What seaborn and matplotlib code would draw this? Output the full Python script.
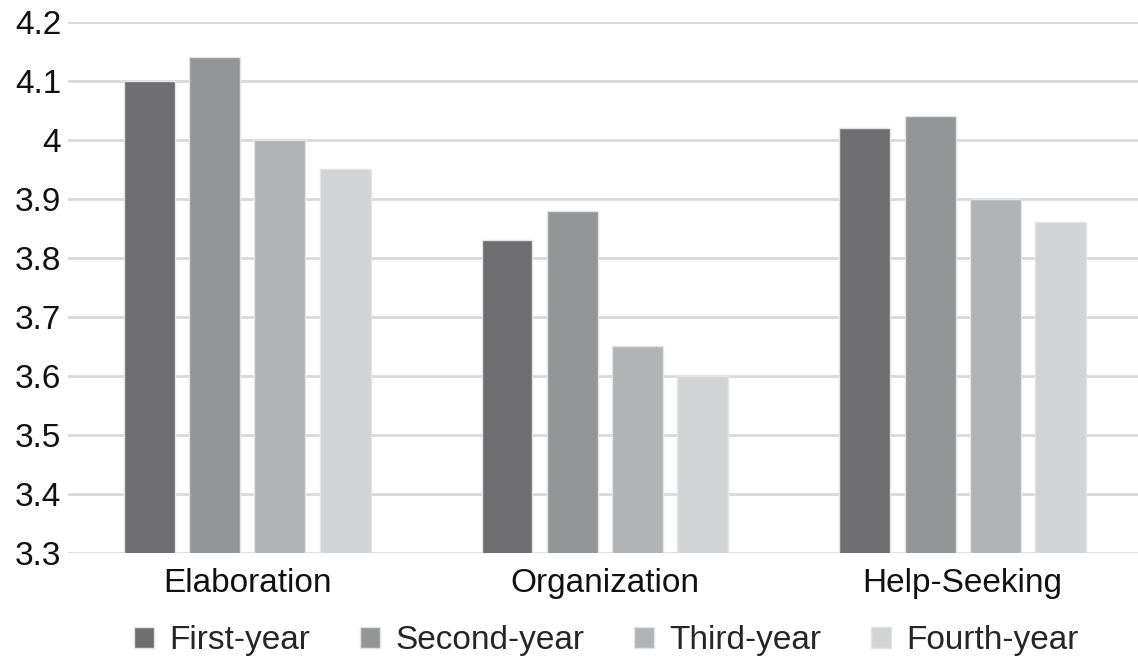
import matplotlib
matplotlib.use("Agg")
import matplotlib.pyplot as plt
import seaborn as sns
import pandas as pd

# Data
categories = ["Elaboration", "Organization", "Help-Seeking"]
years = ["First-year", "Second-year", "Third-year", "Fourth-year"]
first_year = [4.10, 3.83, 4.02]
second_year = [4.14, 3.88, 4.04]
third_year = [4.00, 3.65, 3.90]
fourth_year = [3.95, 3.60, 3.86]
colors = ["#6d6e71", "#939598", "#b1b3b6", "#d1d3d4"]

rows = []
for year, vals in zip(years, [first_year, second_year, third_year, fourth_year]):
    for cat, v in zip(categories, vals):
        rows.append({"Strategy": cat, "Year": year, "Score": v})
df = pd.DataFrame(rows)

sns.set_style("white")
plt.rcParams["font.family"] = ["Liberation Sans", "DejaVu Sans"]

fig = plt.figure(figsize=(11.38, 6.59), dpi=100)
ax = fig.add_axes([0.06, 0.161, 0.94, 0.806])

sns.barplot(
    data=df, x="Strategy", y="Score", hue="Year",
    order=categories, hue_order=years, palette=colors,
    width=0.73, gap=0.22, edgecolor="#e4e4e4", linewidth=1,
    ax=ax, zorder=3,
)

ax.set_ylim(3.3, 4.2)
ax.set_xlim(-0.5, 2.49)
ticks = [3.3, 3.4, 3.5, 3.6, 3.7, 3.8, 3.9, 4.0, 4.1, 4.2]
ax.set_yticks(ticks)
ax.set_yticklabels(["3.3", "3.4", "3.5", "3.6", "3.7", "3.8", "3.9", "4", "4.1", "4.2"])
ax.yaxis.grid(True, color="#d9d9d9", linewidth=2, zorder=0)
ax.set_axisbelow(True)
for s in ax.spines.values():
    s.set_visible(False)
ax.tick_params(axis="both", length=0, labelsize=24, colors="#111111")
ax.tick_params(axis="y", pad=5)
ax.tick_params(axis="x", pad=11)
ax.set_xlabel("")
ax.set_ylabel("")

ax.legend(
    loc="upper center", bbox_to_anchor=(0.503, -0.08), ncol=4, frameon=False,
    fontsize=24, handlelength=0.6, handleheight=0.6, handletextpad=0.45,
    columnspacing=1.5,
)

fig.savefig("out.png", dpi=100)
